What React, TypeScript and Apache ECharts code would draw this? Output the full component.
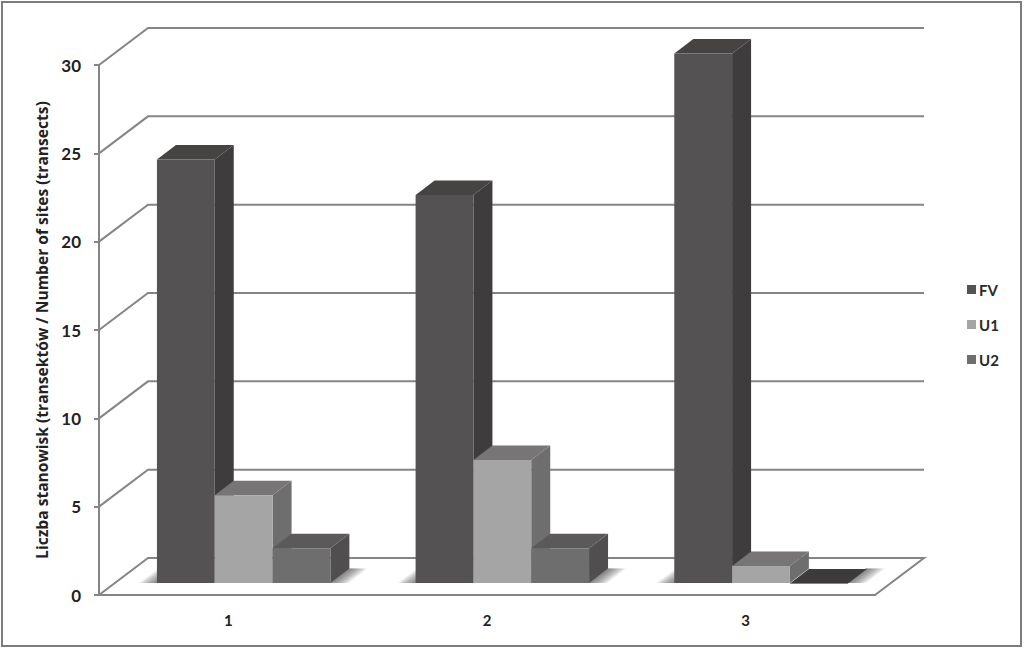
import React, { useEffect, useRef } from "react";
import * as echarts from "echarts";

const categories = ["1", "2", "3"];
const yTicks = [0, 5, 10, 15, 20, 25, 30];
const seriesNames = ["FV", "U1", "U2"];
const fvValues = [24, 22, 30];
const u1Values = [5, 7, 1];
const u2Values = [2, 2, 0];
const yAxisTitle = "Liczba stanowisk (transektów / Number of sites (transects)";

const WALL_DX = 49;
const WALL_DY = -37;
const BAR_DX = 19;
const BAR_DY = -14.5;
const FLOOR_LIFT = 12;
const GROUP_START = -0.276;
const BAR_W = 0.2235;
const LINE = "#858585";
const FONT = "Lato, 'Open Sans', sans-serif";
const SHADOW_STEPS = [2, 4, 6, 8, 10, 12, 14, 16, 18];

const palette = [
  { front: "#555253", side: "#3e3c3c", top: "#464343" },
  { front: "#a6a5a5", side: "#6f6e6e", top: "#777575" },
  { front: "#6f6e6e", side: "#504e4e", top: "#5b5959" },
];

function barSeries(name: string, values: number[], idx: number) {
  return {
    type: "custom",
    name,
    coordinateSystem: "cartesian2d",
    clip: false,
    z: 5 + idx,
    itemStyle: { color: palette[idx].front },
    encode: { x: 0, y: 1 },
    data: values.map((v, i) => [i, v]),
    renderItem(_: any, api: any) {
      const value = api.value(1);
      const base = api.coord([api.value(0), 0]);
      const head = api.coord([api.value(0), value]);
      const band = api.size([1, 0])[0];
      const x0 = base[0] + band * (GROUP_START + idx * BAR_W);
      const x1 = x0 + band * BAR_W;
      const yb = base[1] - FLOOR_LIFT;
      const yt = head[1] - FLOOR_LIFT + 0.6;
      const c = palette[idx];
      const poly = (points: number[][], fill: string) => ({
        type: "polygon",
        shape: { points },
        style: { fill, stroke: null },
      });
      return {
        type: "group",
        children: [
          poly([[x1, yb], [x1 + BAR_DX, yb + BAR_DY], [x1 + BAR_DX, yt + BAR_DY], [x1, yt]], c.side),
          poly([[x0, yt], [x1, yt], [x1 + BAR_DX, yt + BAR_DY], [x0 + BAR_DX, yt + BAR_DY]], value === 0 ? "#3c3a3a" : c.top),
          poly([[x0, yb], [x1, yb], [x1, yt], [x0, yt]], c.front),
        ],
      };
    },
  };
}

export default function App() {
  const ref = useRef<HTMLDivElement>(null);
  useEffect(() => {
    document.body.style.margin = "0";
    const chart = echarts.init(ref.current!, null, { renderer: "svg" });
    const floorSeries = {
      type: "custom",
      name: "floor",
      clip: false,
      silent: true,
      z: 1,
      encode: { x: 0, y: 1 },
      data: yTicks.map((t) => [0, t]),
      renderItem(_: any, api: any) {
        const t = api.value(1);
        const left = api.coord([0, t]);
        const band = api.size([1, 0])[0];
        const axisX = left[0] - band / 2;
        const rightX = axisX + band * categories.length;
        const y = left[1];
        const wall = [[axisX, y], [axisX + WALL_DX, y + WALL_DY], [rightX + WALL_DX, y + WALL_DY]];
        const style = { stroke: LINE, lineWidth: 2, fill: null };
        if (t === 0) {
          return {
            type: "polygon",
            shape: { points: [...wall, [rightX, y]] },
            style: { stroke: LINE, lineWidth: 2, fill: "#fff" },
          };
        }
        return { type: "polyline", shape: { points: wall }, style };
      },
    };
    const shadowSeries = {
      type: "custom",
      name: "shadow",
      clip: false,
      silent: true,
      z: 3,
      encode: { x: 0, y: 1 },
      data: categories.map((_, i) => [i, 0]),
      renderItem(_: any, api: any) {
        const base = api.coord([api.value(0), 0]);
        const band = api.size([1, 0])[0];
        const x0 = base[0] + band * GROUP_START;
        const x1 = x0 + band * 3 * BAR_W;
        const yb = base[1] - FLOOR_LIFT;
        const fill = { fill: "#333", opacity: 0.09 };
        const children: any[] = [];
        SHADOW_STEPS.forEach((s) => {
          children.push({
            type: "polygon",
            shape: { points: [[x0 - s, yb], [x0 + 1, yb], [x0 + 1, yb + (s * BAR_DY) / BAR_DX]] },
            style: fill,
          });
          children.push({
            type: "polygon",
            shape: {
              points: [
                [x1 - 1, yb],
                [x1 + s, yb],
                [x1 + BAR_DX + s, yb + BAR_DY],
                [x1 + BAR_DX - 1, yb + BAR_DY],
              ],
            },
            style: fill,
          });
        });
        return { type: "group", children };
      },
    };
    chart.setOption({
      animation: false,
      backgroundColor: "#fff",
      graphic: [
        {
          type: "rect",
          shape: { x: 2, y: 2, width: 1019, height: 644 },
          style: { fill: "transparent", stroke: "#7d7d7d", lineWidth: 2 },
          silent: true,
        },
      ],
      grid: { left: 99, top: 65, width: 776, height: 530 },
      legend: {
        data: seriesNames,
        orient: "vertical",
        left: 962,
        top: 277,
        itemWidth: 9,
        itemHeight: 9,
        itemGap: 20,
        icon: "rect",
        textStyle: { fontFamily: FONT, fontWeight: "bold", fontSize: 15, color: "#2a2a2a", padding: [0, 0, 0, -2] },
      },
      xAxis: {
        type: "category",
        data: categories,
        axisLine: { lineStyle: { color: LINE, width: 2 } },
        axisTick: { show: false },
        axisLabel: { margin: 17, fontFamily: FONT, fontWeight: "bold", fontSize: 15, color: "#222" },
      },
      yAxis: {
        type: "value",
        min: 0,
        max: 30,
        interval: 5,
        name: yAxisTitle,
        nameLocation: "middle",
        nameRotate: 90,
        nameGap: 46,
        nameTextStyle: { fontFamily: "'Open Sans', sans-serif", fontWeight: "bold", fontSize: 15.6, color: "#222" },
        splitLine: { show: false },
        axisLine: { show: true, lineStyle: { color: LINE, width: 2 } },
        axisTick: { show: true, length: 5, lineStyle: { color: LINE, width: 2 } },
        axisLabel: { margin: 18, fontFamily: FONT, fontWeight: "bold", fontSize: 17, color: "#222" },
      },
      series: [
        floorSeries,
        shadowSeries,
        barSeries(seriesNames[0], fvValues, 0),
        barSeries(seriesNames[1], u1Values, 1),
        barSeries(seriesNames[2], u2Values, 2),
      ],
    });
    return () => chart.dispose();
  }, []);
  return <div ref={ref} style={{ position: "absolute", left: 0, top: 0, width: 1024, height: 649 }} />;
}
